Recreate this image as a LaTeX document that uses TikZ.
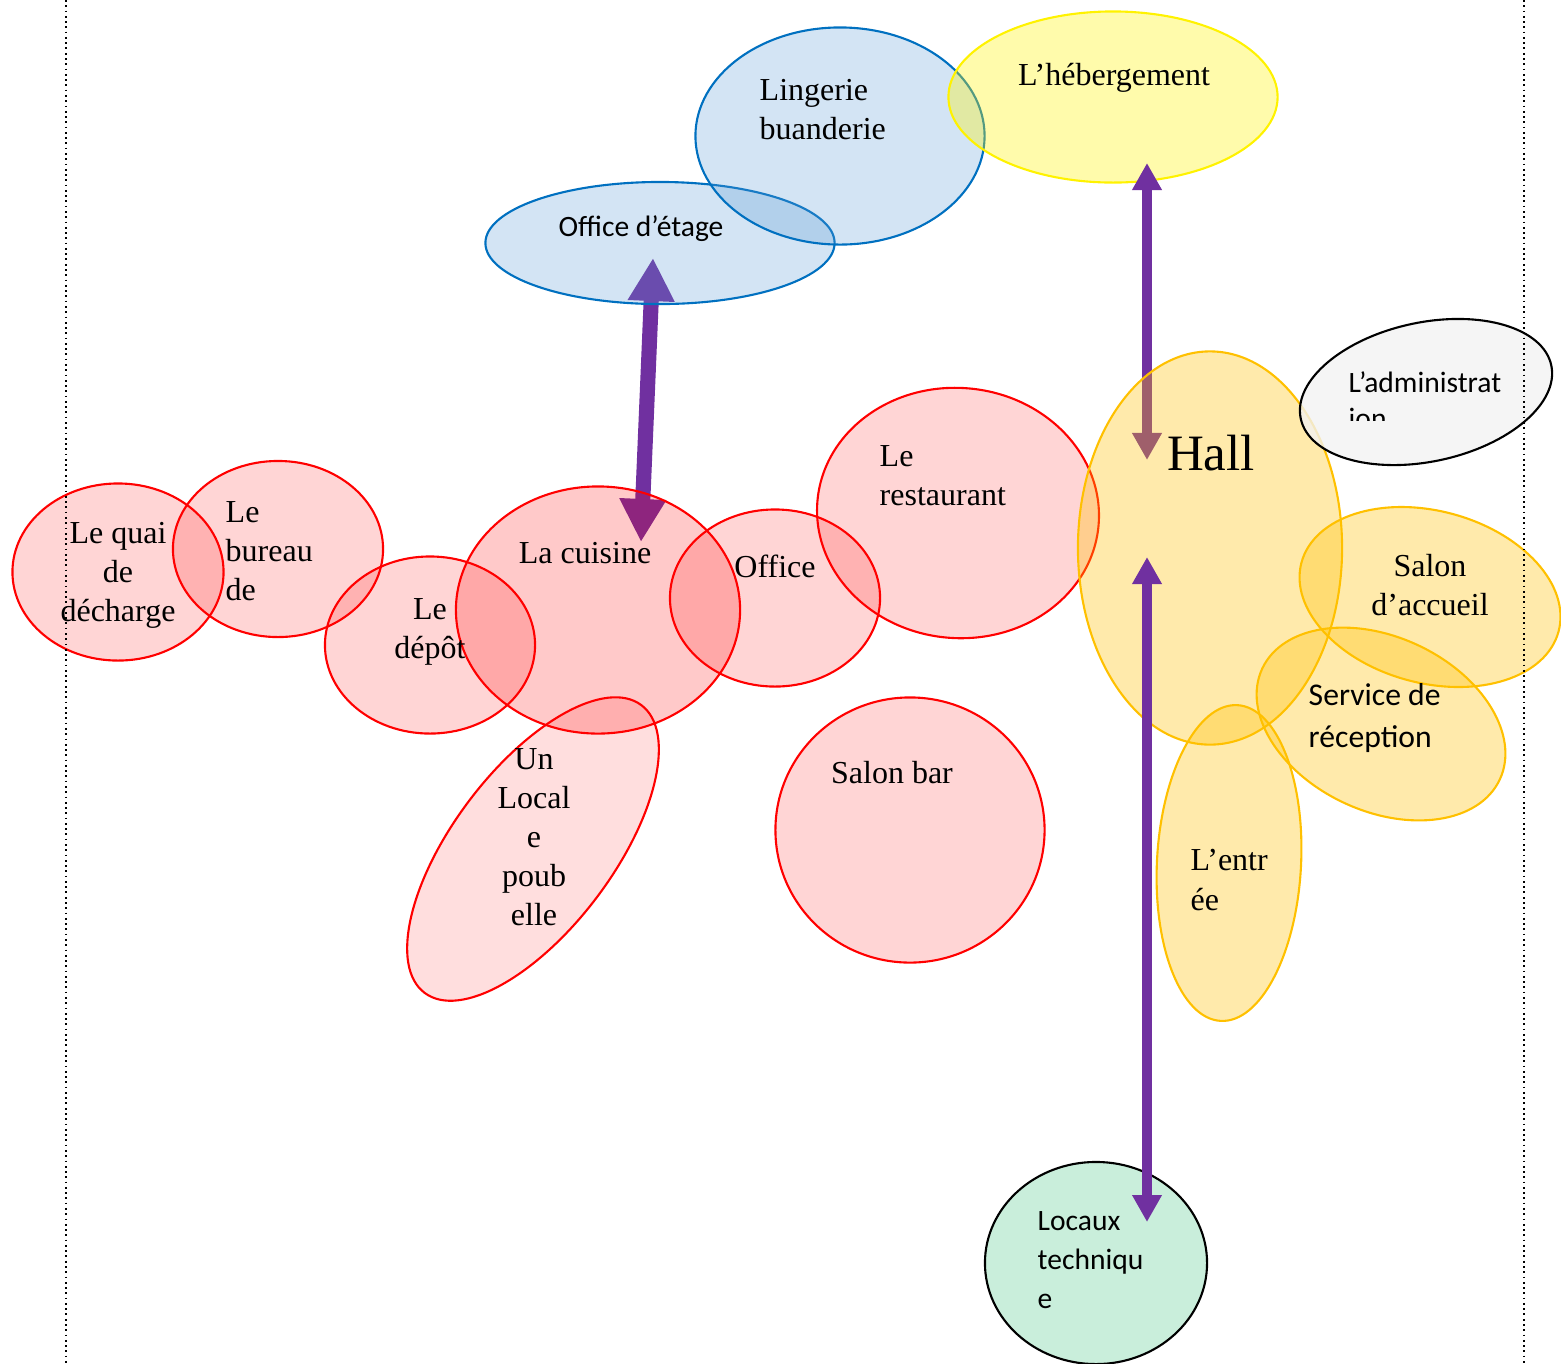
\documentclass[tikz,border=0pt]{standalone}
\usepackage{fontspec}
\setmainfont{Liberation Serif}
\newfontfamily\calibri{Carlito}
\usepackage{xcolor}
\usetikzlibrary{shapes.geometric,arrows.meta}

\definecolor{blueline}{HTML}{0070C0}
\definecolor{skyblue}{HTML}{5B9BD5}
\definecolor{gold}{HTML}{FFC000}
\definecolor{purp}{HTML}{7030A0}
\definecolor{mint}{HTML}{C9EEDB}
\definecolor{paper}{HTML}{F2F2F2}

\tikzset{
  room/.style={ellipse, inner sep=0pt, line width=0.6pt, draw=red, fill=red, fill opacity=0.165},
  bluezone/.style={room, draw=blueline, fill=skyblue, fill opacity=0.27},
  hebzone/.style={room, draw=yellow, fill=yellow, fill opacity=0.33},
  hallzone/.style={room, draw=gold, fill=gold, fill opacity=0.33},
  txt/.style={inner sep=0pt, font=\fontsize{9.1}{11.1}\selectfont},
  sanstxt/.style={inner sep=0pt, font=\calibri\fontsize{8.4}{11}\selectfont},
  link/.style={purp, line width=2.85pt, arrows={Triangle[width=0.28cm,length=0.27cm]-Triangle[width=0.28cm,length=0.27cm]}},
  biglink/.style={purp, line width=4.3pt, arrows={Triangle[width=0.44cm,length=0.43cm]-Triangle[width=0.44cm,length=0.43cm]}}
}

\begin{document}
\begin{tikzpicture}[x=0.01cm, y=-0.01cm]
  \useasboundingbox (0,0) rectangle (1561,1363);
  % ---------- arrow ends ----------
  \coordinate (etageTip) at (653,258);
  \coordinate (cuisineTip) at (641,542);
  \coordinate (hebTip) at (1147,163);
  \coordinate (hallTop) at (1147,460);
  \coordinate (hallLow) at (1147,557);
  \coordinate (locauxTip) at (1147,1222);
  % ---------- cuisine <-> office d'etage ----------
  \draw[biglink] (etageTip) -- (cuisineTip);
  % ---------- red rooms ----------
  \node[room, minimum width=2.11cm, minimum height=1.77cm] (quai) at (118,572) {};
  \node[room, minimum width=2.10cm, minimum height=1.76cm] (bureau) at (278,549) {};
  \node[room, minimum width=2.10cm, minimum height=1.77cm] (depot) at (430,645) {};
  \node[room, fill opacity=0.21, minimum width=2.84cm, minimum height=2.47cm] (cuisine) at (598,610) {};
  \node[room, minimum width=2.10cm, minimum height=1.77cm] (office) at (775,598) {};
  \node[room, rotate=-5, minimum width=2.82cm, minimum height=2.50cm] (resto) at (958,513) {};
  \node[room, minimum width=2.69cm, minimum height=2.65cm] (bar) at (910,830) {};
  \node[room, fill opacity=0.13, rotate=53, minimum width=3.6cm, minimum height=1.6cm] (local) at (533,849) {};
  % ---------- floors ----------
  \node[bluezone, minimum width=3.49cm, minimum height=1.22cm] (etage) at (660,243) {};
  \node[bluezone, minimum width=2.89cm, minimum height=2.17cm] (linge) at (840,136) {};
  \node[hebzone, minimum width=3.29cm, minimum height=1.71cm] (heb) at (1113,97) {};
  \draw[link] (hebTip) -- (hallTop);
  % ---------- hall and reception ----------
  \node[hallzone, minimum width=2.64cm, minimum height=3.93cm] (hall) at (1210,548) {};
  \node[room, draw=black, fill=paper, fill opacity=0.8, rotate=12, minimum width=2.56cm, minimum height=1.39cm] (admin) at (1426,392) {};
  \node[hallzone, rotate=-15, minimum width=2.66cm, minimum height=1.72cm] (accueil) at (1430,597) {};
  \node[hallzone, rotate=-25, minimum width=2.62cm, minimum height=1.74cm] (service) at (1381,724) {};
  \node[hallzone, rotate=-3, minimum width=1.44cm, minimum height=3.16cm] (entree) at (1229,863) {};
  % ---------- technical rooms ----------
  \node[room, draw=black, fill=mint, fill opacity=1, minimum width=2.22cm, minimum height=2.02cm] (locaux) at (1096,1263) {};
  \draw[link] (hallLow) -- (locauxTip);
  % ---------- texts ----------
  \node[txt, align=center] (quaiTxt) at (118,575) {Le quai\\de\\décharge};
  \node[txt, align=left, anchor=west] (bureauTxt) at (225,551) {Le\\bureau\\de};
  \node[txt, align=center] (depotTxt) at (430,632) {Le\\dépôt};
  \node[txt] (cuisineTxt) at (585,553) {La cuisine};
  \node[txt] (officeTxt) at (775,566) {Office};
  \node[txt, align=left, anchor=west] (restoTxt) at (879,476) {Le\\restaurant};
  \node[txt] (barTxt) at (892,773) {Salon bar};
  \node[txt, align=center] (localTxt) at (534,837) {Un\\Local\\e\\poub\\elle};
  \node[sanstxt] (etageTxt) at (641,229) {Office d’étage};
  \node[txt, align=left, anchor=west] (lingeTxt) at (759,110) {Lingerie\\buanderie};
  \node[txt] (hebTxt) at (1114,78) {L’hébergement};
  \node[txt, font=\fontsize{14.5}{17}\selectfont] (hallTxt) at (1211,453) {Hall};
  \node[sanstxt, anchor=base west] (adminTxt) at (1348,392) {L’administrat};
  \begin{scope}
    \clip (1330,400) rectangle (1520,420);
    \node[sanstxt, anchor=base west] (adminTxtB) at (1348,428) {ion};
  \end{scope}
  \node[txt, align=center] (accueilTxt) at (1430,585) {Salon\\d’accueil};
  \node[sanstxt, font=\calibri\fontsize{9}{12.2}\selectfont, align=left, anchor=west] (serviceTxt) at (1308,718) {Service de\\réception};
  \node[txt, align=left, anchor=west] (entreeTxt) at (1190,880) {L’entr\\ée};
  \node[sanstxt, align=left, anchor=west] (locauxTxt) at (1037,1260) {Locaux\\techniqu\\e};
  % ---------- page margins ----------
  \draw[densely dotted, line width=0.5pt] (66,0) -- (66,1363);
  \draw[densely dotted, line width=0.5pt] (1524,0) -- (1524,1363);
\end{tikzpicture}
\end{document}
